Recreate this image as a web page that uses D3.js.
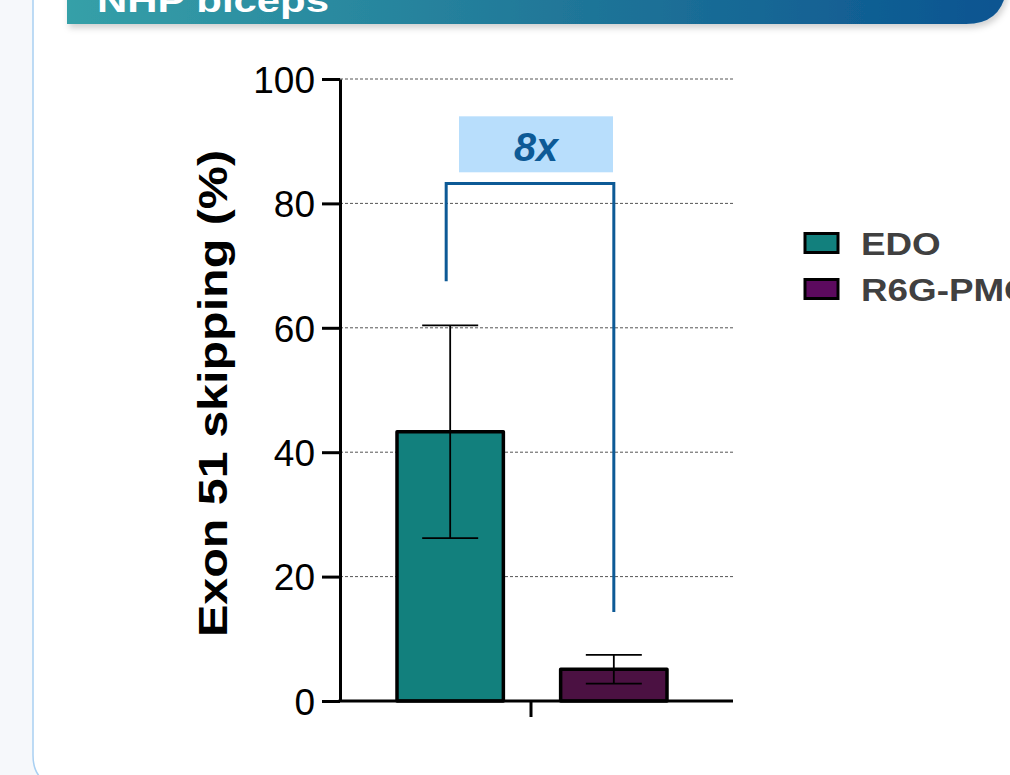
<!DOCTYPE html>
<html>
<head>
<meta charset="utf-8">
<script src="https://cdn.jsdelivr.net/npm/d3@7"></script>
<style>
  html, body { margin: 0; padding: 0; background: #fff; }
  svg { display: block; font-family: "Liberation Sans", Arial, sans-serif; }
</style>
</head>
<body>
<svg id="chart" width="1010" height="775"></svg>
<script>
// ---- data ----
const groups = ["EDO", "R6G-PMO"];
const means = [43.3, 5.1];
const sds = [17.1, 2.3];
const barColors = ["#12807d", "#4b1142"];
const legendColors = ["#12807d", "#5c0a5e"];
const yTicks = [0, 20, 40, 60, 80, 100];
const yTitle = "Exon 51 skipping (%)";
const headerTitle = "NHP biceps";
const foldLabel = "8x";
const bracketLeftY = 67.5;
const bracketRightY = 14.3;
const bracketTopY = 83.2;
const foldBoxLow = 85.0;
const foldBoxHigh = 94.0;

const svg = d3.select("#chart");
const defs = svg.append("defs");

// page background strip + card
svg.append("rect").attr("x", 0).attr("y", 0).attr("width", 1010).attr("height", 775).attr("fill", "#f6f8fb");
svg.append("path")
  .attr("d", "M33,-10 L33,755 Q33,785 63,785 L1020,785 L1020,-10 Z")
  .attr("fill", "#ffffff").attr("stroke", "#a9d0f2").attr("stroke-width", 1.5);

// header banner
const grad = defs.append("linearGradient").attr("id", "hdr").attr("x1", "0%").attr("x2", "100%");
grad.append("stop").attr("offset", "0%").attr("stop-color", "#35a0a8");
grad.append("stop").attr("offset", "55%").attr("stop-color", "#1f7598");
grad.append("stop").attr("offset", "100%").attr("stop-color", "#0a5491");
const shadow = defs.append("filter").attr("id", "shadow").attr("x", "-5%").attr("y", "-50%").attr("width", "110%").attr("height", "200%");
shadow.append("feDropShadow").attr("dx", 2).attr("dy", 4).attr("stdDeviation", 3).attr("flood-color", "#000").attr("flood-opacity", 0.18);
svg.append("path")
  .attr("d", "M67,-40 L1006,-40 L1006,-8 Q1000,24 966,24 L67,24 Z")
  .attr("fill", "url(#hdr)").attr("filter", "url(#shadow)");
svg.append("text").attr("x", 97).attr("y", 12)
  .attr("fill", "#fff").attr("font-weight", "bold").attr("font-size", 34)
  .attr("textLength", 232).attr("lengthAdjust", "spacingAndGlyphs")
  .text(headerTitle);

// scales
const y = d3.scaleLinear().domain([0, 100]).range([701, 79]);
const x = d3.scaleBand().domain(groups).range([397, 667]).paddingInner(0.35).paddingOuter(0);
const xAxisLeft = 340, xAxisRight = 733;

// gridlines
svg.append("g").selectAll("line").data(yTicks.filter(d => d > 0)).join("line")
  .attr("x1", xAxisLeft).attr("x2", xAxisRight)
  .attr("y1", d => y(d)).attr("y2", d => y(d))
  .attr("stroke", "#555").attr("stroke-width", 1).attr("stroke-dasharray", "3,2");

// y axis
const yAxis = d3.axisLeft(y).tickValues(yTicks).tickSize(18).tickPadding(7).tickSizeOuter(0);
const gy = svg.append("g").attr("transform", `translate(${xAxisLeft},0)`).call(yAxis);
gy.select(".domain").attr("stroke", "#000").attr("stroke-width", 3);
gy.selectAll(".tick line").attr("stroke", "#000").attr("stroke-width", 3);
gy.selectAll(".tick text").attr("font-size", 37).attr("fill", "#000")
  .attr("font-family", "'Liberation Sans', Arial, sans-serif").attr("dy", "0.36em");

// bars
svg.append("g").selectAll("rect").data(groups).join("rect")
  .attr("x", d => x(d)).attr("width", x.bandwidth())
  .attr("y", (d, i) => y(means[i])).attr("height", (d, i) => y(0) - y(means[i]))
  .attr("fill", (d, i) => barColors[i]).attr("stroke", "#000").attr("stroke-width", 3.5)
  .attr("stroke-linejoin", "round");

// error bars
const eb = svg.append("g").attr("stroke", "#000").attr("stroke-width", 1.8);
groups.forEach((g, i) => {
  const cx = x(g) + x.bandwidth() / 2;
  const hi = y(means[i] + sds[i]), lo = y(means[i] - sds[i]);
  const cap = 28;
  eb.append("line").attr("x1", cx).attr("x2", cx).attr("y1", hi).attr("y2", lo);
  eb.append("line").attr("x1", cx - cap).attr("x2", cx + cap).attr("y1", hi).attr("y2", hi);
  eb.append("line").attr("x1", cx - cap).attr("x2", cx + cap).attr("y1", lo).attr("y2", lo);
});

// x axis
svg.append("line").attr("x1", xAxisLeft - 1.5).attr("x2", xAxisRight).attr("y1", y(0)).attr("y2", y(0))
  .attr("stroke", "#000").attr("stroke-width", 3);
svg.append("line").attr("x1", 531).attr("x2", 531).attr("y1", y(0)).attr("y2", y(0) + 16)
  .attr("stroke", "#000").attr("stroke-width", 3);

// bracket
const bxL = x(groups[0]) + x.bandwidth() / 2 - 4;
const bxR = x(groups[1]) + x.bandwidth() / 2;
svg.append("path")
  .attr("d", `M${bxL},${y(bracketLeftY)} L${bxL},${y(bracketTopY)} L${bxR},${y(bracketTopY)} L${bxR},${y(bracketRightY)}`)
  .attr("fill", "none").attr("stroke", "#0d5a96").attr("stroke-width", 3);

// fold label
svg.append("rect").attr("x", 459).attr("y", y(foldBoxHigh)).attr("width", 154).attr("height", y(foldBoxLow) - y(foldBoxHigh))
  .attr("fill", "#b8defc");
svg.append("text").attr("x", 536).attr("y", 161)
  .attr("text-anchor", "middle").attr("font-size", 41).attr("font-weight", "bold").attr("font-style", "italic")
  .attr("textLength", 44).attr("lengthAdjust", "spacingAndGlyphs")
  .attr("fill", "#0d5a96").text(foldLabel);

// y title
svg.append("text").attr("transform", `translate(227,${393.5}) rotate(-90)`)
  .attr("text-anchor", "middle").attr("font-size", 40).attr("font-weight", "bold").attr("fill", "#000")
  .attr("textLength", 487).attr("lengthAdjust", "spacingAndGlyphs")
  .text(yTitle);

// legend
const lg = svg.append("g");
groups.forEach((g, i) => {
  const cy = 243 + i * 46;
  lg.append("rect").attr("x", 805).attr("y", cy - 9.5).attr("width", 33).attr("height", 19)
    .attr("fill", legendColors[i]).attr("stroke", "#000").attr("stroke-width", 3);
  lg.append("text").attr("transform", `translate(861,${cy + 11.5}) scale(1.15,1)`)
    .attr("font-size", 32).attr("font-weight", "bold").attr("fill", "#404040").text(g);
});
</script>
</body>
</html>
